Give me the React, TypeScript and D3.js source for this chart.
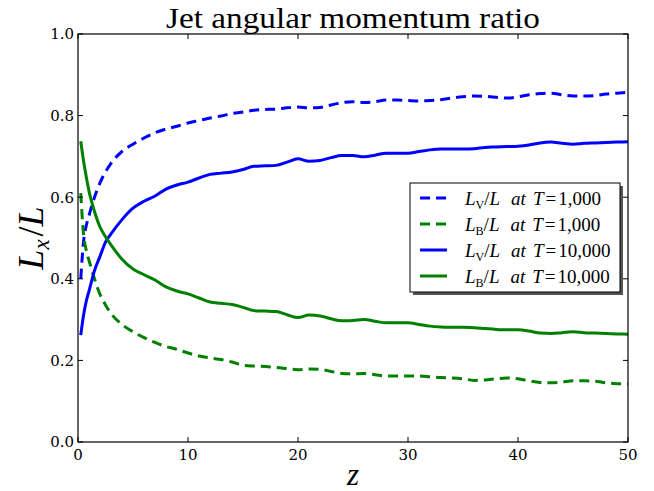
import React from "react";
import * as d3 from "d3";

const zGrid = [0.25, 0.5, 0.75, 1, 1.5, 2, 2.5, 3, 4, 5, 6, 7, 8, 9, 10, 11, 12, 13, 14, 15, 16, 17, 18, 19, 20, 21, 22, 23, 24, 25, 26, 27, 28, 29, 30, 31, 32, 33, 34, 35, 36, 37, 38, 39, 40, 41, 42, 43, 44, 45, 46, 47, 48, 49, 50];

const lvT1000 = [0.40, 0.49, 0.53, 0.555, 0.60, 0.635, 0.662, 0.683, 0.712, 0.730, 0.745, 0.758, 0.767, 0.774, 0.782, 0.788, 0.794, 0.799, 0.805, 0.809, 0.813, 0.815, 0.816, 0.819, 0.821, 0.819, 0.820, 0.826, 0.832, 0.834, 0.832, 0.834, 0.838, 0.838, 0.837, 0.836, 0.837, 0.839, 0.843, 0.846, 0.848, 0.847, 0.845, 0.843, 0.846, 0.851, 0.854, 0.855, 0.851, 0.848, 0.848, 0.849, 0.853, 0.855, 0.857];

const lbT1000 = [0.61, 0.51, 0.47, 0.445, 0.40, 0.362, 0.336, 0.315, 0.288, 0.270, 0.256, 0.244, 0.234, 0.227, 0.218, 0.211, 0.206, 0.202, 0.196, 0.188, 0.186, 0.185, 0.183, 0.180, 0.177, 0.179, 0.178, 0.173, 0.168, 0.167, 0.168, 0.165, 0.162, 0.162, 0.162, 0.162, 0.160, 0.158, 0.157, 0.155, 0.151, 0.152, 0.155, 0.157, 0.155, 0.150, 0.146, 0.145, 0.147, 0.150, 0.150, 0.149, 0.145, 0.143, 0.142];

const lvT10000 = [0.262, 0.31, 0.345, 0.37, 0.42, 0.455, 0.49, 0.51, 0.545, 0.573, 0.590, 0.603, 0.620, 0.630, 0.637, 0.647, 0.656, 0.659, 0.662, 0.668, 0.676, 0.677, 0.678, 0.686, 0.694, 0.688, 0.690, 0.697, 0.702, 0.702, 0.699, 0.703, 0.708, 0.708, 0.708, 0.712, 0.716, 0.718, 0.718, 0.718, 0.719, 0.722, 0.723, 0.724, 0.725, 0.728, 0.733, 0.735, 0.732, 0.730, 0.732, 0.733, 0.734, 0.735, 0.736];

const lbT10000 = [0.737, 0.69, 0.65, 0.615, 0.565, 0.527, 0.503, 0.483, 0.448, 0.424, 0.410, 0.397, 0.380, 0.370, 0.363, 0.353, 0.343, 0.340, 0.337, 0.330, 0.322, 0.321, 0.320, 0.312, 0.305, 0.311, 0.309, 0.302, 0.297, 0.298, 0.300, 0.296, 0.292, 0.292, 0.292, 0.288, 0.284, 0.282, 0.281, 0.281, 0.280, 0.278, 0.276, 0.275, 0.275, 0.272, 0.267, 0.266, 0.268, 0.270, 0.268, 0.267, 0.266, 0.265, 0.264];

const xTicks = [0, 10, 20, 30, 40, 50];
const yTicks = [0.0, 0.2, 0.4, 0.6, 0.8, 1.0];

const seriesDefs = [
  { values: lvT1000, color: "#0000ff", dashed: true, sub: "V", T: "1,000" },
  { values: lbT1000, color: "#008000", dashed: true, sub: "B", T: "1,000" },
  { values: lvT10000, color: "#0000ff", dashed: false, sub: "V", T: "10,000" },
  { values: lbT10000, color: "#008000", dashed: false, sub: "B", T: "10,000" },
];

const W = 654;
const H = 491;
const M = { left: 78, right: 628, top: 34, bottom: 442 };
const SERIF = "'DejaVu Serif', serif";
const MATH = "'Liberation Serif', 'DejaVu Serif', serif";

export default function App() {
  const x = d3.scaleLinear().domain([0, 50]).range([M.left, M.right]);
  const y = d3.scaleLinear().domain([0, 1]).range([M.bottom, M.top]);
  const line = d3
    .line<number>()
    .x((_, i) => x(zGrid[i]))
    .y((d) => y(d))
    .curve(d3.curveMonotoneX);

  const dash = "10,6";
  const lg = { x: 410, y: 183, w: 210, h: 109 };
  const rowY = [198, 224, 250, 276];

  return (
    <svg width={W} height={H} style={{ position: "absolute", left: 0, top: 0, background: "#fff" }}>
      <rect x={0} y={0} width={W} height={H} fill="#fff" />
      <defs>
        <clipPath id="plotclip">
          <rect x={M.left} y={M.top} width={M.right - M.left} height={M.bottom - M.top} />
        </clipPath>
      </defs>
      {/* title */}
      <text x={(M.left + M.right) / 2} y={28} textAnchor="middle" fontFamily={MATH} fontSize={30} textLength={374} lengthAdjust="spacingAndGlyphs" fill="#000">
        Jet angular momentum ratio
      </text>

      {/* lines */}
      <g clipPath="url(#plotclip)">
        {seriesDefs.map((s, i) => (
          <path
            key={i}
            d={line(s.values) || ""}
            fill="none"
            stroke={s.color}
            strokeWidth={3}
            strokeDasharray={s.dashed ? dash : undefined}
            strokeLinecap="butt"
            strokeLinejoin="round"
          />
        ))}
      </g>

      {/* axes frame */}
      <rect x={M.left} y={M.top} width={M.right - M.left} height={M.bottom - M.top} fill="none" stroke="#000" strokeWidth={1.2} />

      {/* x ticks */}
      {xTicks.map((t) => (
        <g key={"x" + t}>
          <line x1={x(t)} x2={x(t)} y1={M.bottom} y2={M.bottom - 5} stroke="#000" strokeWidth={1} />
          <line x1={x(t)} x2={x(t)} y1={M.top} y2={M.top + 5} stroke="#000" strokeWidth={1} />
          <text x={x(t)} y={460} textAnchor="middle" fontFamily={SERIF} fontSize={15} fill="#000">
            {t}
          </text>
        </g>
      ))}
      {/* y ticks */}
      {yTicks.map((t) => (
        <g key={"y" + t}>
          <line x1={M.left} x2={M.left + 5} y1={y(t)} y2={y(t)} stroke="#000" strokeWidth={1} />
          <line x1={M.right} x2={M.right - 5} y1={y(t)} y2={y(t)} stroke="#000" strokeWidth={1} />
          <text x={74} y={y(t)} dy="0.36em" textAnchor="end" fontFamily={SERIF} fontSize={15} fill="#000">
            {t.toFixed(1)}
          </text>
        </g>
      ))}

      {/* axis labels */}
      <text x={(M.left + M.right) / 2} y={485} textAnchor="middle" fontFamily={MATH} fontStyle="italic" fontSize={31} fill="#000">
        z
      </text>
      <text transform={`translate(43, ${(M.top + M.bottom) / 2}) rotate(-90)`} textAnchor="middle" fontFamily={MATH} fontSize={36} fill="#000">
        <tspan fontStyle="italic">L</tspan>
        <tspan fontStyle="italic" fontSize={23} dy={6}>x</tspan>
        <tspan dy={-6} dx={3}>/</tspan>
        <tspan fontStyle="italic">L</tspan>
      </text>

      {/* legend */}
      <rect x={lg.x + 3} y={lg.y + 3} width={lg.w} height={lg.h} fill="#555" />
      <rect x={lg.x} y={lg.y} width={lg.w} height={lg.h} fill="#fff" stroke="#000" strokeWidth={1} />
      {seriesDefs.map((s, i) => (
        <g key={"lg" + i}>
          <line
            x1={420}
            x2={447}
            y1={rowY[i]}
            y2={rowY[i]}
            stroke={s.color}
            strokeWidth={3}
            strokeDasharray={s.dashed ? dash : undefined}
          />
          <text x={465} y={rowY[i]} dy="0.35em" fontFamily={MATH} fontSize={19} fill="#000">
            <tspan fontStyle="italic">L</tspan>
            <tspan fontSize={12} dy={4}>{s.sub}</tspan>
            <tspan dy={-4}>/</tspan>
            <tspan fontStyle="italic">L</tspan>
            <tspan fontStyle="italic" dx={11}>at</tspan>
            <tspan fontStyle="italic" dx={7}>T</tspan>
            <tspan dx={2}>=</tspan>
            <tspan dx={2}>{s.T}</tspan>
          </text>
        </g>
      ))}
    </svg>
  );
}
